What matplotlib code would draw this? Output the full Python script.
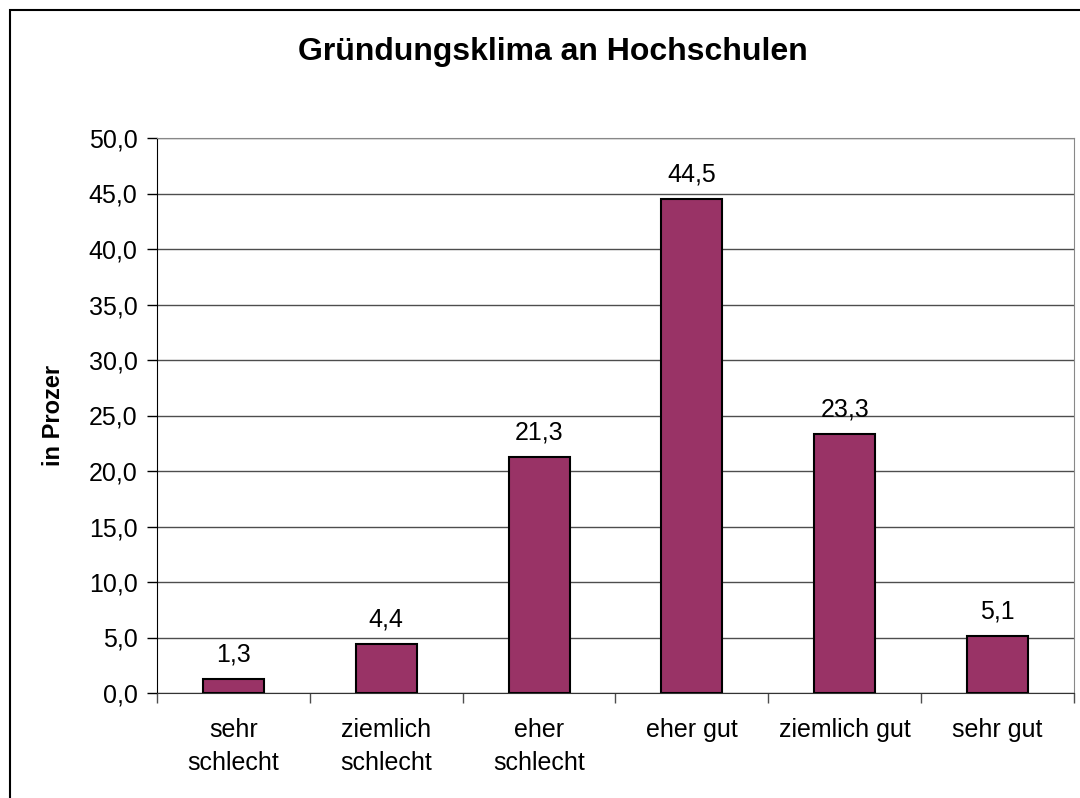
import matplotlib.pyplot as plt
from matplotlib.patches import Rectangle
from matplotlib.ticker import FixedLocator, FuncFormatter

plt.rcParams["font.family"] = ["Liberation Sans", "DejaVu Sans"]

categories = ["sehr\nschlecht", "ziemlich\nschlecht", "eher\nschlecht",
              "eher gut", "ziemlich gut", "sehr gut"]
values = [1.3, 4.4, 21.3, 44.5, 23.3, 5.1]
y_ticks = [0, 5, 10, 15, 20, 25, 30, 35, 40, 45, 50]

fig = plt.figure(figsize=(10.8, 7.98), dpi=100)
ax = fig.add_axes([157 / 1080, 1 - 693 / 798, 917 / 1080, 555 / 798])

# outer chart frame
fig.patches.append(Rectangle((10 / 1080, -0.05), 1.2, 1 - 10 / 798 + 0.05,
                             transform=fig.transFigure, fill=False,
                             edgecolor="black", lw=1.5))

x = list(range(len(values)))
bars = ax.bar(x, values, width=0.4, color="#993366", edgecolor="black", lw=1.5, zorder=3)

for xi, v in zip(x, values):
    ax.annotate(f"{v:.1f}".replace(".", ","), (xi, v), xytext=(0, 9),
                textcoords="offset points", ha="center", va="bottom", fontsize=18)

ax.set_xlim(-0.5, len(values) - 0.5)
ax.set_ylim(0, 50)
ax.set_yticks(y_ticks)
ax.yaxis.set_major_formatter(FuncFormatter(lambda v, p: f"{v:.1f}".replace(".", ",")))
ax.grid(axis="y", color="#4d4d4d", lw=1, zorder=0)

ax.xaxis.set_major_locator(FixedLocator([i - 0.5 for i in range(len(values) + 1)]))
ax.xaxis.set_major_formatter(FuncFormatter(lambda v, p: ""))
ax.set_xticks(x, minor=True)
ax.set_xticklabels(categories, minor=True, fontsize=18, linespacing=1.5)
ax.tick_params(axis="x", which="minor", length=0, pad=18)
ax.tick_params(axis="x", which="major", length=7, width=1, color="#4d4d4d")
ax.tick_params(axis="y", length=7, width=1, labelsize=18, pad=7)

for side in ("top", "right"):
    ax.spines[side].set_color("#888888")
ax.spines["left"].set_color("black")
ax.spines["bottom"].set_color("#333333")

ax.set_ylabel("in Prozer", fontsize=17, fontweight="bold", labelpad=17)
fig.text(553 / 1080, 1 - 52 / 798, "Gründungsklima an Hochschulen", ha="center", va="center",
         fontsize=23, fontweight="bold")

fig.savefig("out.png", dpi=100)
